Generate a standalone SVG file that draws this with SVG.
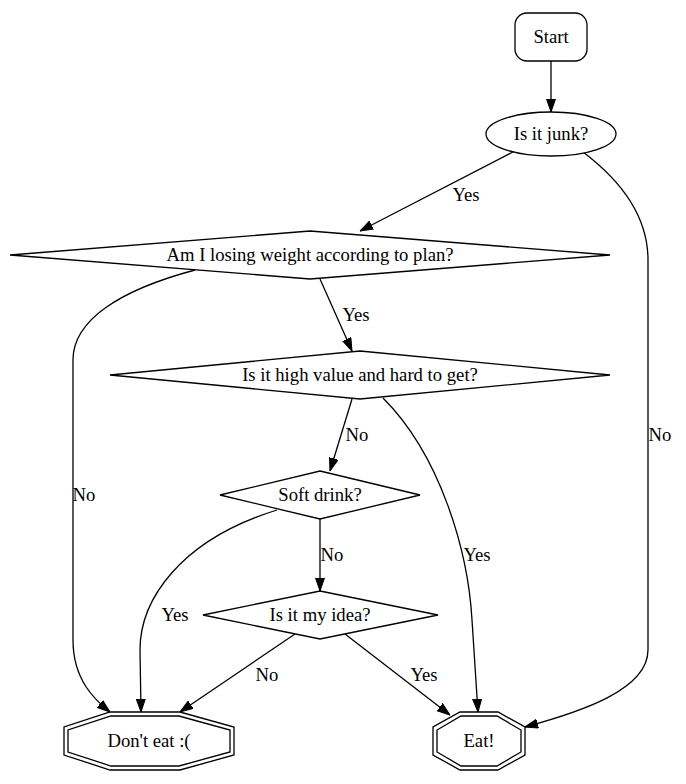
<svg xmlns="http://www.w3.org/2000/svg" width="686" height="784" viewBox="0 0 686 784">
<style>
.n{fill:#fff;stroke:#000;stroke-width:1.3}
.o{fill:none;stroke:#000;stroke-width:1.3}
.e{fill:none;stroke:#000;stroke-width:1.3;marker-end:url(#ah)}
text{font-family:'Liberation Serif','Times New Roman',serif;font-size:18.67px;fill:#000;text-anchor:middle}
</style>
<defs>
<marker id="ah" markerWidth="13" markerHeight="10" refX="13" refY="5" orient="auto" markerUnits="userSpaceOnUse">
<path d="M0,0.5 L13,5 L0,9.5 z" fill="#000" stroke="#000"/>
</marker>
</defs>
<rect width="686" height="784" fill="#fff"/>
<g id="connectors">
<path class="e" d="M551,61 L551,112"/>
<path class="e" d="M513,152 L360,231"/>
<text x="466" y="201">Yes</text>
<path class="e" d="M583,152 C620,180 648,215 648,260 L648,650 C648,690 580,712 525,727"/>
<text x="660" y="441">No</text>
<path class="e" d="M195,270 C120,290 73,320 73,360 L73,640 C73,680 95,700 110,712"/>
<text x="84" y="501">No</text>
<path class="e" d="M320,279 L352,351"/>
<text x="356" y="321">Yes</text>
<path class="e" d="M352,399 L330,471"/>
<text x="357" y="441">No</text>
<path class="e" d="M383,398 C440,455 468,550 472,620 L478,712"/>
<text x="477" y="561">Yes</text>
<path class="e" d="M277,510 C180,540 140,600 140,650 L141,712"/>
<text x="175" y="621">Yes</text>
<path class="e" d="M320,519 L320,591"/>
<text x="332" y="561">No</text>
<path class="e" d="M295,634 L180,712"/>
<text x="267" y="681">No</text>
<path class="e" d="M345,634 L450,715"/>
<text x="424" y="681">Yes</text>
</g>
<g id="start">
<rect class="n" x="515" y="13" width="72" height="48" rx="12" ry="12"/>
<text x="551" y="43">Start</text>
</g>
<g id="junk">
<ellipse class="n" cx="551" cy="134" rx="65" ry="22"/>
<text x="551" y="140">Is it junk?</text>
</g>
<g id="losing">
<polygon class="n" points="310,231 610,255 310,279 10,255"/>
<text x="310" y="261">Am I losing weight according to plan?</text>
</g>
<g id="highvalue">
<polygon class="n" points="360,351 610,375 360,399 110,375"/>
<text x="360" y="381">Is it high value and hard to get?</text>
</g>
<g id="softdrink">
<polygon class="n" points="320,471 420,495 320,519 220,495"/>
<text x="320" y="501">Soft drink?</text>
</g>
<g id="myidea">
<polygon class="n" points="320,591 438,615 320,639 203,615"/>
<text x="320" y="621">Is it my idea?</text>
</g>
<g id="donteat">
<polygon class="o" points="110,712 180,712 234,727 234,755 180,770 110,770 64,755 64,727"/>
<polygon class="o" points="111,716 179,716 230,730 230,752 179,766 111,766 68,752 68,730"/>
<text x="149" y="747">Don't eat :(</text>
</g>
<g id="eat">
<polygon class="o" points="460,712 498,712 525,727 525,755 498,770 460,770 433,755 433,727"/>
<polygon class="o" points="461,716 497,716 521,730 521,752 497,766 461,766 437,752 437,730"/>
<text x="479" y="747">Eat!</text>
</g>
</svg>
